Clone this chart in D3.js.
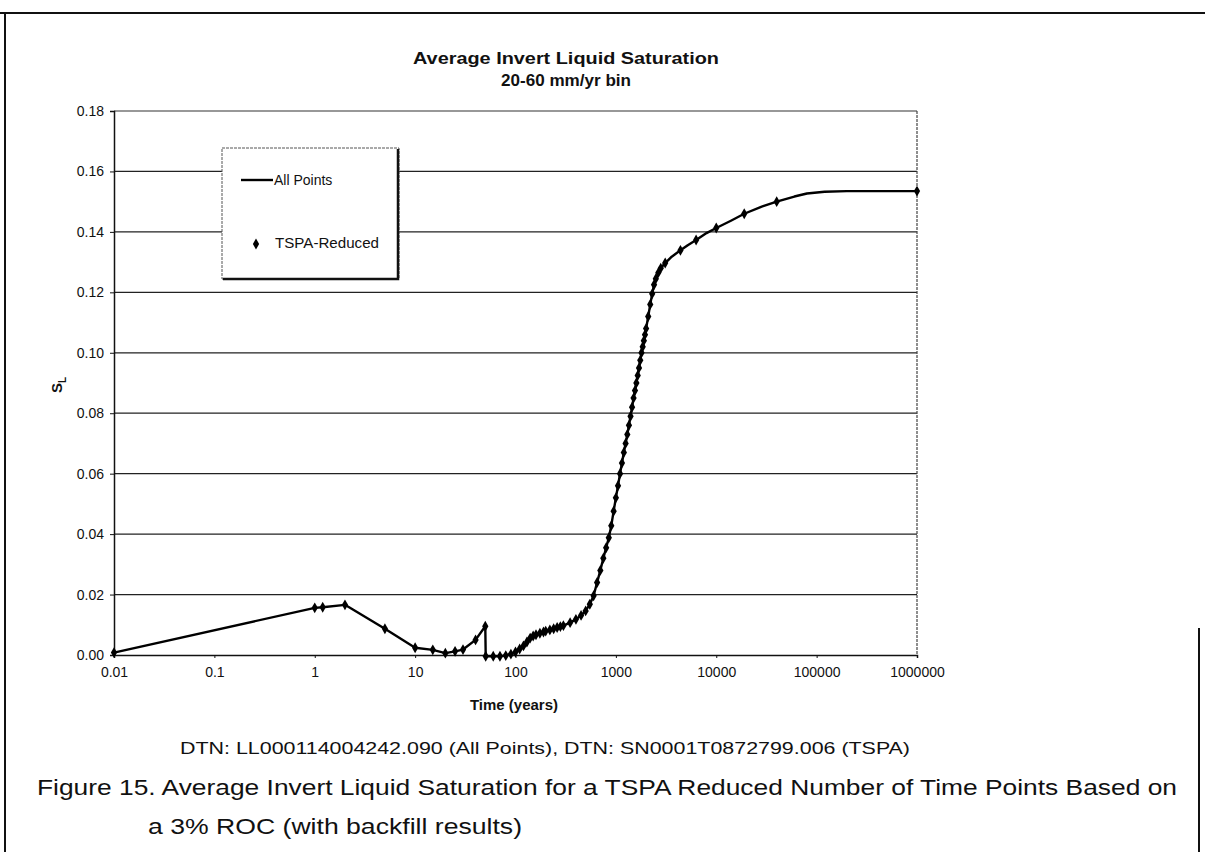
<!DOCTYPE html>
<html>
<head>
<meta charset="utf-8">
<script src="https://cdn.jsdelivr.net/npm/d3@7"></script>
<style>
  body { margin: 0; background: #fff; }
  text { font-family: "Liberation Sans", Arial, sans-serif; fill: #111; }
</style>
</head>
<body>
<div id="chart"></div>
<script>
const width = 1205;
const height = 852;

// Time (years) and average invert liquid saturation
const times = [0.01, 1, 1.2, 2, 5, 10, 15, 20, 25, 30, 40, 50, 50.5, 60, 70, 80, 90,
    100, 110, 120, 130, 140, 150, 160, 175, 190, 200, 220, 240, 260, 280, 300, 350, 400, 450,
    500, 550, 600, 650, 700, 750, 800, 850, 900, 950, 1000, 1050, 1100, 1150, 1200, 1250,
    1300, 1350, 1400, 1450, 1500, 1550, 1600, 1650, 1700, 1750, 1800, 1850, 1900, 1950,
    2000, 2100, 2200, 2300, 2400, 2500, 2650, 2800, 3100, 3600, 4400, 5200, 6300, 8000,
    10000, 14000, 19000, 28000, 40000, 60000, 80000, 120000, 200000, 1000000];
const saturation = [0.0008, 0.0156, 0.0158, 0.0166, 0.0087, 0.0024, 0.0017, 0.0006, 0.0012, 0.0018, 0.005, 0.0095, -0.0004, -0.0004, -0.0004, -0.0002, 0.0003,
    0.001, 0.002, 0.003, 0.0043, 0.0056, 0.0063, 0.0067, 0.0072, 0.0076, 0.0079, 0.0083, 0.0087, 0.0091, 0.0094, 0.0097, 0.0107, 0.0118, 0.0131,
    0.0146, 0.0168, 0.0196, 0.024, 0.028, 0.032, 0.0355, 0.0388, 0.0428, 0.0476, 0.052, 0.056, 0.060, 0.0635, 0.067, 0.070,
    0.073, 0.076, 0.079, 0.082, 0.085, 0.0875, 0.090, 0.0925, 0.095, 0.0975, 0.100, 0.102, 0.104, 0.106,
    0.108, 0.112, 0.116, 0.1195, 0.1225, 0.1245, 0.1265, 0.128, 0.1297, 0.1318, 0.1339, 0.1356, 0.1373, 0.1396,
    0.1413, 0.1437, 0.146, 0.1483, 0.150, 0.1517, 0.1527, 0.1533, 0.1535, 0.1535];
// times that are on the "All Points" line but not kept by the TSPA reduction
const lineOnlyTimes = [3600, 5200, 8000, 14000, 28000, 60000, 80000, 120000, 200000];

const yTicks = [0, 0.02, 0.04, 0.06, 0.08, 0.10, 0.12, 0.14, 0.16, 0.18];
const xTicks = [0.01, 0.1, 1, 10, 100, 1000, 10000, 100000, 1000000];
const xTickLabels = ["0.01", "0.1", "1", "10", "100", "1000", "10000", "100000", "1000000"];

const data = times.map((t, i) => ({t: t, s: saturation[i]}));
const reduced = data.filter(d => !lineOnlyTimes.includes(d.t));

const svg = d3.select("#chart")
    .append("svg")
    .attr("width", width)
    .attr("height", height);

// outer frame of the scanned page
svg.append("line").attr("x1", 0).attr("x2", width).attr("y1", 13).attr("y2", 13)
    .attr("stroke", "#111").attr("stroke-width", 2);
svg.append("line").attr("x1", 5).attr("x2", 5).attr("y1", 13).attr("y2", height)
    .attr("stroke", "#111").attr("stroke-width", 2);
svg.append("line").attr("x1", 1199).attr("x2", 1199).attr("y1", 628).attr("y2", height)
    .attr("stroke", "#111").attr("stroke-width", 2);

const plot = {left: 114, right: 917, top: 111, bottom: 655};

const x = d3.scaleLog()
    .domain([0.01, 1000000])
    .range([plot.left, plot.right]);

const y = d3.scaleLinear()
    .domain([0, 0.18])
    .range([plot.bottom, plot.top]);

// horizontal gridlines
svg.append("g")
    .selectAll("line")
    .data(yTicks.filter(v => v > 0 && v < 0.18))
    .enter().append("line")
    .attr("x1", plot.left)
    .attr("x2", plot.right)
    .attr("y1", d => y(d))
    .attr("y2", d => y(d))
    .attr("stroke", "#222")
    .attr("stroke-width", 1.2);

// plot border: solid top, dotted right
svg.append("line")
    .attr("x1", plot.left).attr("x2", plot.right)
    .attr("y1", plot.top).attr("y2", plot.top)
    .attr("stroke", "#333").attr("stroke-width", 1.2);
svg.append("line")
    .attr("x1", plot.right).attr("x2", plot.right)
    .attr("y1", plot.top).attr("y2", plot.bottom)
    .attr("stroke", "#444").attr("stroke-width", 1.2)
    .attr("stroke-dasharray", "3,1");

// y axis
const yAxis = svg.append("g")
    .attr("transform", `translate(${plot.left},0)`)
    .call(d3.axisLeft(y).tickValues(yTicks).tickFormat(d3.format(".2f")).tickSize(4).tickPadding(6));
yAxis.select(".domain").attr("stroke", "#111").attr("stroke-width", 1.5);
yAxis.selectAll(".tick line").attr("stroke", "#111");
yAxis.selectAll("text")
    .style("font-family", "'Liberation Sans', Arial, sans-serif")
    .style("font-size", "14px")
    .attr("fill", "#111");

// x axis
const xAxis = svg.append("g")
    .attr("transform", `translate(0,${plot.bottom})`)
    .call(d3.axisBottom(x).tickValues(xTicks).tickFormat((d, i) => xTickLabels[i]).tickSize(3).tickPadding(9));
xAxis.select(".domain").attr("stroke", "#111").attr("stroke-width", 1.5);
xAxis.selectAll(".tick line").attr("stroke", "#111");
xAxis.selectAll("text")
    .style("font-family", "'Liberation Sans', Arial, sans-serif")
    .style("font-size", "14px")
    .attr("fill", "#111");

// All Points line
const line = d3.line()
    .x(d => x(d.t))
    .y(d => y(d.s));

svg.append("path")
    .datum(data)
    .attr("d", line)
    .attr("fill", "none")
    .attr("stroke", "#000")
    .attr("stroke-width", 2.4)
    .attr("stroke-linejoin", "round");

// TSPA-Reduced markers
svg.append("g")
    .selectAll("path")
    .data(reduced)
    .enter().append("path")
    .attr("transform", d => `translate(${x(d.t)},${y(d.s)})`)
    .attr("d", d3.symbol().type(d3.symbolDiamond).size(34))
    .attr("fill", "#000");

// legend
const legend = svg.append("g");
legend.append("rect")
    .attr("x", 222).attr("y", 148)
    .attr("width", 177).attr("height", 131)
    .attr("fill", "#fff")
    .attr("stroke", "#555").attr("stroke-width", 1)
    .attr("stroke-dasharray", "3,1");
legend.append("polyline")
    .attr("points", "398,149 398,279 223,279")
    .attr("fill", "none")
    .attr("stroke", "#111").attr("stroke-width", 2.5);
legend.append("line")
    .attr("x1", 241).attr("x2", 273)
    .attr("y1", 180).attr("y2", 180)
    .attr("stroke", "#000").attr("stroke-width", 2.4);
legend.append("text")
    .attr("x", 274).attr("y", 185)
    .style("font-size", "14px")
    .text("All Points");
legend.append("path")
    .attr("transform", "translate(256,244)")
    .attr("d", d3.symbol().type(d3.symbolDiamond).size(34))
    .attr("fill", "#000");
legend.append("text")
    .attr("x", 275).attr("y", 248)
    .attr("textLength", 104)
    .attr("lengthAdjust", "spacingAndGlyphs")
    .style("font-size", "14.5px")
    .text("TSPA-Reduced");

// titles
svg.append("text")
    .attr("x", 566).attr("y", 64)
    .attr("text-anchor", "middle")
    .attr("textLength", 306)
    .attr("lengthAdjust", "spacingAndGlyphs")
    .style("font-size", "17px")
    .style("font-weight", "bold")
    .text("Average Invert Liquid Saturation");
svg.append("text")
    .attr("x", 566).attr("y", 86)
    .attr("text-anchor", "middle")
    .attr("textLength", 130)
    .attr("lengthAdjust", "spacingAndGlyphs")
    .style("font-size", "17px")
    .style("font-weight", "bold")
    .text("20-60 mm/yr bin");

svg.append("text")
    .attr("x", 514).attr("y", 710)
    .attr("text-anchor", "middle")
    .style("font-size", "15px")
    .style("font-weight", "bold")
    .text("Time (years)");

const yLabel = svg.append("text")
    .attr("transform", "translate(62,385) rotate(-90)")
    .attr("text-anchor", "middle")
    .style("font-size", "15px")
    .style("font-weight", "bold");
yLabel.append("tspan").text("S");
yLabel.append("tspan").attr("dy", 4).style("font-size", "10px").text("L");

// source and caption
svg.append("text")
    .attr("x", 545).attr("y", 754)
    .attr("text-anchor", "middle")
    .attr("textLength", 730)
    .attr("lengthAdjust", "spacingAndGlyphs")
    .style("font-size", "17px")
    .text("DTN:  LL000114004242.090 (All Points), DTN:  SN0001T0872799.006 (TSPA)");
svg.append("text")
    .attr("x", 37).attr("y", 795)
    .attr("textLength", 1140)
    .attr("lengthAdjust", "spacingAndGlyphs")
    .style("font-size", "22px")
    .text("Figure 15.  Average Invert Liquid Saturation for a TSPA Reduced Number of Time Points Based on");
svg.append("text")
    .attr("x", 148).attr("y", 834)
    .attr("textLength", 374)
    .attr("lengthAdjust", "spacingAndGlyphs")
    .style("font-size", "22px")
    .text("a 3% ROC (with backfill results)");
</script>
</body>
</html>
